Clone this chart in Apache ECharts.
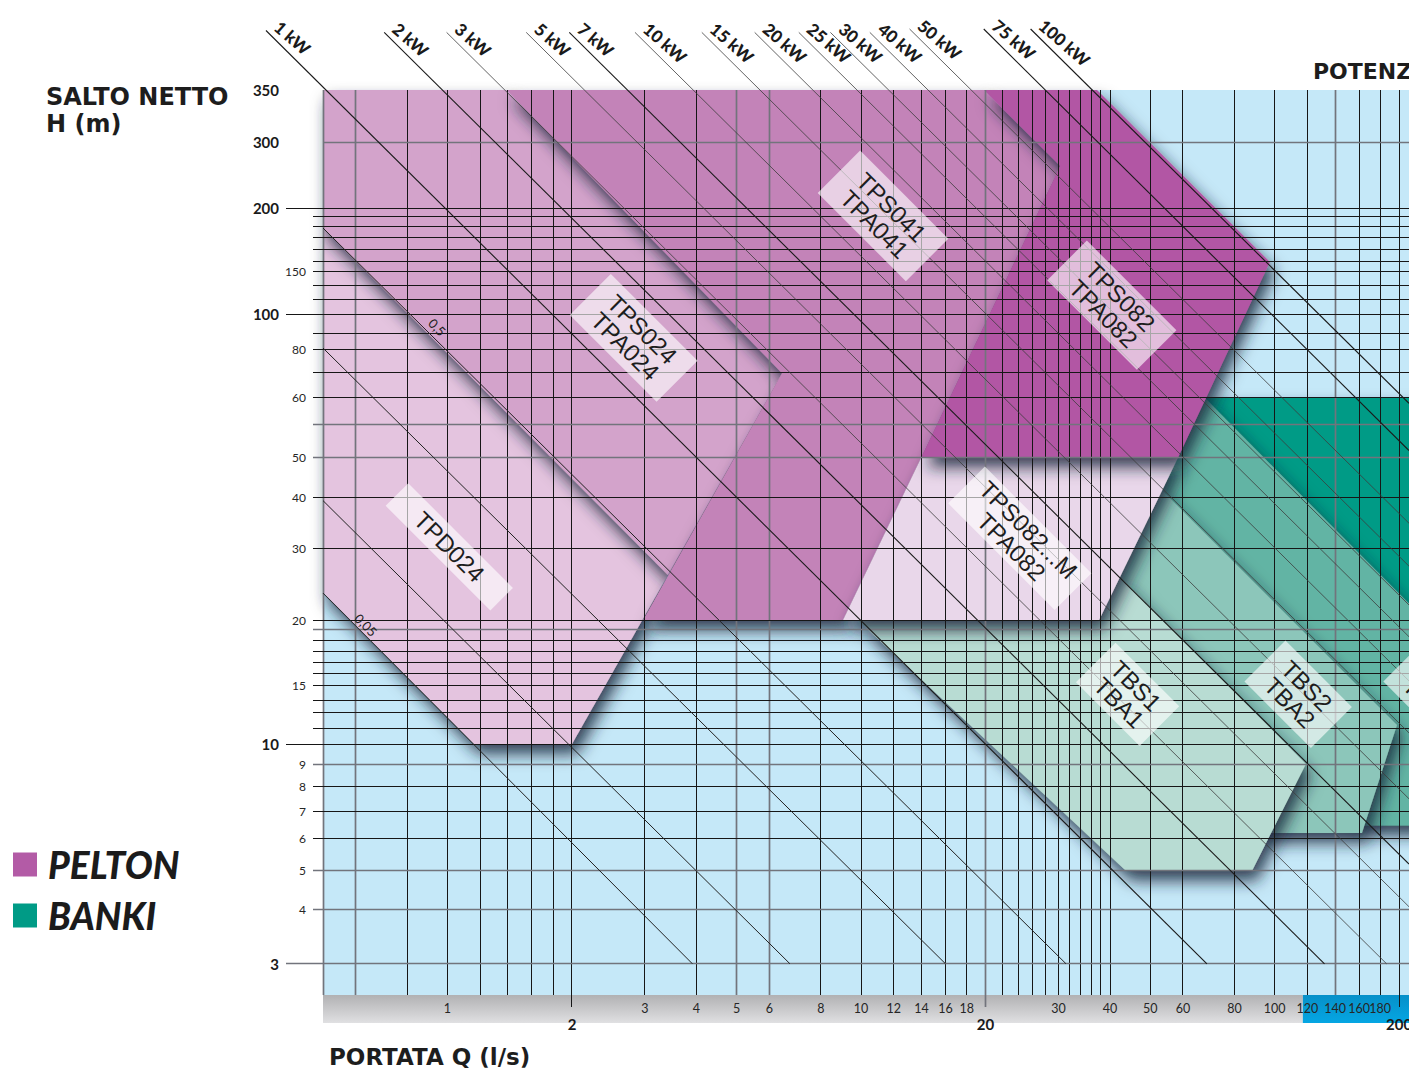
<!DOCTYPE html>
<html>
<head>
<meta charset="utf-8">
<title>Campo di impiego turbine Pelton / Banki</title>
<script src="https://cdn.jsdelivr.net/npm/echarts@6.0.0/dist/echarts.min.js"></script>
<style>
html,body{margin:0;padding:0;background:#ffffff;}
#chart{width:1409px;height:1068px;}
</style>
</head>
<body>
<div id="chart"></div>
<script>
// ---- Head (H) axis exactly as printed in the reference: non-uniform log spacing ----
const Y_SCALE_H   = [2.5, 3, 4, 5, 6, 7, 8, 9, 10, 15, 20, 30, 40, 50, 60, 80, 100, 150, 200, 300, 350, 1000];
const Y_SCALE_POS = [-2.9, 31.3, 85.3, 124.3, 157, 183.7, 209, 231, 251, 309.7, 374.7, 447, 498, 538, 597.7, 646, 680.7, 723.7, 787, 852.7, 905, 1096.5];

const Q_MIN = 0.5, Q_MAX = 211.3, H_MIN = 2.54, H_MAX = 350;

// ---- grid lines ----
const Q_GRID = [0.5,0.6,0.8,1,1.2,1.4,1.6,1.8,2,3,4,5,6,8,10,12,14,16,18,20,22,24,26,28,30,32,34,36,38,40,50,60,80,100,120,140,160,180,200];
const Q_GRID_GREY = [0.5,0.6,5,6,20,140];
const Q_TICKS_LONG = [2,20,200];
const H_GRID = [300,200,192,184,175,166,157,150,131,115,100,88.5,80,69.7,60,55.2,50,40,30,20,19.2,18.3,17.4,16.6,15.8,15,13.5,12.4,11.1,10,9,8,7,6,5,4,3];
const H_GRID_GREY = [300,55.2,50,19.2,9,5,4,3];
const H_GRID_MAJOR = [200,100,10,3];
const H_GRID_NO_TICK = [300];

// ---- tick labels ----
const X_LABELS = [1,2,3,4,5,6,8,10,12,14,16,18,20,30,40,50,60,80,100,120,140,160,180,200];
const X_LABELS_BOLD = [2,20,200];
const Y_LABELS = [350,300,200,150,100,80,60,50,40,30,20,15,10,9,8,7,6,5,4,3];
const Y_LABELS_BOLD = [350,300,200,100,10,3];
const X_BAND_BLUE_FROM = 117;

// ---- PELTON application areas [Q l/s, H m] ----
const TPD024_AREA  = [[0.5,182.6],[0.5,23.4],[1.16,10],[2.0,10],[3.41,25.8]];
const TPS024_AREA  = [[0.5,350],[1.39,350],[6.44,69.3],[3.41,25.8],[0.5,182.6]];
const TPS041_AREA  = [[1.39,350],[19.8,350],[30.3,259],[14.0,50],[9.04,20],[2.97,20],[6.44,69.3]];
const TPS082M_AREA = [[14.0,50],[58.5,50],[37.6,20],[9.04,20]];
const TPS082_AREA  = [[19.8,350],[37.2,350],[97.4,156.5],[58.5,50],[14.0,50],[30.3,259]];

// ---- BANKI application areas [Q l/s, H m] ----
const TBL_AREA  = [[67.5,60],[313.6,60],[313.6,15.7]];
const TBS3_AREA = [[67.5,60],[313.6,15.7],[313.6,6.45],[160.8,6.45],[87.2,13.55],[53.1,41.8]];
const TBS2_AREA = [[53.1,41.8],[197.6,11.4],[162.6,6.18],[94.7,6.18],[59.0,10.3],[40.0,22.8]];
const TBS1_AREA = [[9.83,20],[37.6,20],[42.3,25.5],[119,9],[88.2,5],[43.7,5]];

// ---- constant power lines ----
const KW_LABELS  = ['1 kW','2 kW','3 kW','5 kW','7 kW','10 kW','15 kW','20 kW','25 kW','30 kW','40 kW','50 kW','75 kW','100 kW'];
const KW_START_Q = [0.364,0.703,0.995,1.55,1.97,2.84,4.12,5.53,7.07,8.43,10.5,13.1,19.8,25.7];
const KW_START_H = [485,480,480,480,480,480,480,480,480,480,480,489,489,489];
const KW_END_Q   = [68.6,132,186.5,211.3,211.3,211.3,211.3,211.3,211.3,211.3,211.3,211.3,211.3,211.3];
const KW_END_H   = [3,3,3,4.07,5.19,7.48,10.8,15.3,18.6,21.8,27.1,34.5,51.0,58.9];
const KW_DARK    = ['1 kW','2 kW','7 kW','75 kW','100 kW'];

const LOW_START_Q = [0.5,0.5,0.5,0.5];
const LOW_START_H = [23.3,39.2,80.5,182.6];
const LOW_END_Q   = [3.91,6.73,16.0,31.3];
const LOW_END_H   = [3,3,3,3];
const NOTE_TEXT = ['0,5','0,05'];
const NOTE_Q    = [0.944,0.635];
const NOTE_H    = [92.1,19.6];

// ---- turbine labels ----
const TURBINE_LABELS  = ['TPS041\nTPA041','TPS024\nTPA024','TPD024','TPS082\nTPA082','TPS082...M\nTPA082','TBS1\nTBA1','TBS2\nTBA2','TBS3\nTBA3'];
const TURBINE_LABEL_Q = [11.3,2.82,1.01,40.4,24.2,44.1,114,247];
const TURBINE_LABEL_H = [193,86,30.2,109,31.7,14.1,14.1,14.1];

// ================= helpers =================
function yPos(h) {
  const H = Y_SCALE_H, P = Y_SCALE_POS;
  let i = 0;
  while (i < H.length - 2 && h > H[i + 1]) i++;
  const l0 = Math.log10(H[i]), l1 = Math.log10(H[i + 1]);
  return P[i] + (Math.log10(h) - l0) / (l1 - l0) * (P[i + 1] - P[i]);
}
const near = (a, b) => Math.abs(a - b) < 1e-6;
const crisp = v => Math.round(v - 0.5) + 0.5;
const DEG = Math.PI / 180;

const PELTON_AREAS = [TPD024_AREA, TPS024_AREA, TPS041_AREA, TPS082M_AREA, TPS082_AREA];
const PELTON_FILLS = ['#e4c4df', '#d3a3cb', '#c383b8', '#e9d7ea', '#b256a4'];
const BANKI_AREAS = [TBL_AREA, TBS3_AREA, TBS2_AREA, TBS1_AREA];
const BANKI_FILLS = ['#009b86', '#62b4a4', '#8cc6ba', '#b8dcd3'];
const SHADOW = {shadowBlur: 16, shadowColor: 'rgba(22,40,58,0.85)', shadowOffsetX: 5, shadowOffsetY: 10};

function areaSeries(name, areas, fills, z, color) {
  return {
    type: 'custom', name: name, coordinateSystem: 'cartesian2d', z: z, silent: true,
    itemStyle: {color: color},
    data: areas.map(a => [a[0][0], yPos(a[0][1])]),
    renderItem: function (params, api) {
      const pts = areas[params.dataIndex].map(p => api.coord([p[0], yPos(p[1])]));
      return {
        type: 'polygon', z2: params.dataIndex,
        shape: {points: pts},
        style: Object.assign({fill: fills[params.dataIndex]}, SHADOW)
      };
    }
  };
}

const TURB_PAD = [[6,19],[5,18],[4,30],[4,20],[2,12],[4,15],[5,17],[5,17]];
const TITLE_FONT = {fontFamily: 'DejaVu Sans', fontWeight: 'bold', lineHeight: 27, color: '#1d1d1d'};

const option = {
  animation: false,
  textStyle: {fontFamily: 'Lato'},
  title: [
    {text: 'SALTO NETTO\nH (m)', left: 46, top: 83, padding: 0, textStyle: Object.assign({fontSize: 24}, TITLE_FONT)},
    {text: 'PORTATA Q (l/s)', left: 329, top: 1043, padding: 0, textStyle: Object.assign({fontSize: 23}, TITLE_FONT)},
    {text: 'POTENZA', left: 1313, top: 58, padding: 0, textStyle: Object.assign({fontSize: 22}, TITLE_FONT)}
  ],
  legend: {
    orient: 'vertical', left: 13, top: 846, padding: 0, itemWidth: 24, itemHeight: 24, itemGap: 14,
    selectedMode: false,
    data: [
      {name: 'PELTON', icon: 'rect', itemStyle: {color: '#b35ba6'}},
      {name: 'BANKI', icon: 'rect', itemStyle: {color: '#009b86'}}
    ],
    textStyle: {fontFamily: 'Lato', fontSize: 37, fontWeight: 900, fontStyle: 'italic', color: '#1b1b1b', padding: [0, 0, 0, 6]}
  },
  grid: {left: 323, right: 0, top: 90, bottom: 73, show: true, backgroundColor: '#c5e8f8', borderWidth: 0, containLabel: false, outerBoundsMode: 'none'},
  xAxis: {
    type: 'log', logBase: 10, min: Q_MIN, max: Q_MAX, z: 20,
    axisLine: {show: false}, axisTick: {show: false}, splitLine: {show: false}, minorSplitLine: {show: false},
    axisLabel: {
      customValues: X_LABELS, margin: 7, hideOverlap: false,
      formatter: function (v) {
        const r = Math.round(v * 1000) / 1000;
        return X_LABELS_BOLD.some(b => near(b, r)) ? '{b|' + r + '}' : '{s|' + r + '}';
      },
      rich: {
        s: {fontFamily: 'Lato', fontSize: 12.5, color: '#262626'},
        b: {fontFamily: 'Lato', fontSize: 15, fontWeight: 'bold', color: '#1a1a1a', padding: [14, 0, 0, 0]}
      }
    }
  },
  yAxis: {
    type: 'value', min: yPos(H_MIN), max: yPos(H_MAX), z: 20,
    axisLine: {show: false}, axisTick: {show: false}, splitLine: {show: false},
    axisLabel: {
      customValues: Y_LABELS.map(yPos), margin: 17, hideOverlap: false,
      formatter: function (v) {
        let best = Y_LABELS[0], d = Infinity;
        Y_LABELS.forEach(h => { const dd = Math.abs(yPos(h) - v); if (dd < d) { d = dd; best = h; } });
        return Y_LABELS_BOLD.indexOf(best) >= 0 ? '{b|' + best + '}' : '{s|' + best + '}';
      },
      rich: {
        s: {fontFamily: 'Lato', fontSize: 12, color: '#262626'},
        b: {fontFamily: 'Lato', fontSize: 15, fontWeight: 'bold', color: '#1a1a1a', padding: [0, 27, 0, 0]}
      }
    }
  },
  series: [
    // bottom band of the flow axis
    {
      type: 'custom', name: 'band', coordinateSystem: 'cartesian2d', z: 1, silent: true,
      data: [[Q_MIN, yPos(H_MIN)], [X_BAND_BLUE_FROM, yPos(H_MIN)]],
      renderItem: function (params, api) {
        const i = params.dataIndex;
        const x0 = api.coord([i === 0 ? Q_MIN : X_BAND_BLUE_FROM, yPos(H_MIN)]);
        const x1 = api.coord([i === 0 ? X_BAND_BLUE_FROM : Q_MAX, yPos(H_MIN)]);
        const grad = i === 0
          ? new echarts.graphic.LinearGradient(0, 0, 0, 1, [{offset: 0, color: '#b1b1b3'}, {offset: 1, color: '#e0e0e2'}])
          : new echarts.graphic.LinearGradient(0, 0, 0, 1, [{offset: 0, color: '#0690c9'}, {offset: 1, color: '#05a6e3'}]);
        return {type: 'rect', shape: {x: x0[0], y: x0[1], width: x1[0] - x0[0], height: 28}, style: {fill: grad}};
      }
    },
    areaSeries('BANKI', BANKI_AREAS, BANKI_FILLS, 2, '#009b86'),
    areaSeries('PELTON', PELTON_AREAS, PELTON_FILLS, 3, '#b35ba6'),
    // vertical grid lines
    {
      type: 'custom', name: 'vgrid', coordinateSystem: 'cartesian2d', z: 4, silent: true,
      data: Q_GRID.map(q => [q, yPos(H_MIN)]),
      renderItem: function (params, api) {
        const q = Q_GRID[params.dataIndex];
        const a = api.coord([q, yPos(H_MAX)]);
        const b = api.coord([q, yPos(H_MIN)]);
        const grey = Q_GRID_GREY.some(g => near(g, q));
        const ext = Q_TICKS_LONG.some(g => near(g, q)) ? 12 : 0;
        const x = crisp(a[0]);
        return {type: 'line', shape: {x1: x, y1: a[1], x2: x, y2: b[1] + ext},
                style: {stroke: grey ? '#72747c' : '#161616', lineWidth: grey ? 1.7 : 1}};
      }
    },
    // horizontal grid lines
    {
      type: 'custom', name: 'hgrid', coordinateSystem: 'cartesian2d', z: 4, silent: true,
      data: H_GRID.map(h => [Q_MIN, yPos(h)]),
      renderItem: function (params, api) {
        const h = H_GRID[params.dataIndex];
        const a = api.coord([Q_MIN, yPos(h)]);
        const b = api.coord([Q_MAX, yPos(h)]);
        const grey = H_GRID_GREY.some(g => near(g, h));
        const ext = H_GRID_MAJOR.some(g => near(g, h)) ? 37 : (H_GRID_NO_TICK.some(g => near(g, h)) ? 0 : 10);
        const y = crisp(a[1]);
        return {type: 'line', shape: {x1: a[0] - ext, y1: y, x2: b[0], y2: y},
                style: {stroke: grey ? '#72747c' : '#161616', lineWidth: grey ? 1.6 : 1}};
      }
    },
    // low power lines (starting at the left edge)
    {
      type: 'custom', name: 'lowpower', coordinateSystem: 'cartesian2d', z: 5, silent: true,
      data: LOW_START_Q.map((q, i) => [q, yPos(LOW_START_H[i])]),
      renderItem: function (params, api) {
        const i = params.dataIndex;
        const a = api.coord([LOW_START_Q[i], yPos(LOW_START_H[i])]);
        const b = api.coord([LOW_END_Q[i], yPos(LOW_END_H[i])]);
        return {type: 'line', shape: {x1: a[0], y1: a[1], x2: b[0], y2: b[1]}, style: {stroke: '#222222', lineWidth: 1}};
      }
    },
    // kW lines with their labels
    {
      type: 'custom', name: 'kw', coordinateSystem: 'cartesian2d', z: 5, silent: true,
      data: KW_START_Q.map((q, i) => [q, yPos(KW_START_H[i])]),
      renderItem: function (params, api) {
        const i = params.dataIndex;
        const a = api.coord([KW_START_Q[i], yPos(KW_START_H[i])]);
        const b = api.coord([KW_END_Q[i], yPos(KW_END_H[i])]);
        const dark = KW_DARK.indexOf(KW_LABELS[i]) >= 0;
        return {type: 'group', children: [
          {type: 'line', shape: {x1: a[0], y1: a[1], x2: b[0], y2: b[1]},
           style: {stroke: dark ? '#1a1a1a' : '#3c3c3c', lineWidth: dark ? 1.1 : 0.8}},
          {type: 'text', x: a[0] + 11, y: a[1] - 6, rotation: -41 * DEG,
           style: {text: KW_LABELS[i], fill: '#1a1a1a', fontFamily: 'Lato', fontWeight: 900, fontSize: 17, align: 'left', verticalAlign: 'middle'}}
        ]};
      }
    },
    // notes on low power lines
    {
      type: 'custom', name: 'notes', coordinateSystem: 'cartesian2d', z: 6, silent: true,
      data: NOTE_Q.map((q, i) => [q, yPos(NOTE_H[i])]),
      renderItem: function (params, api) {
        const i = params.dataIndex;
        const p = api.coord([NOTE_Q[i], yPos(NOTE_H[i])]);
        return {type: 'text', x: p[0], y: p[1], rotation: -45 * DEG,
                style: {text: NOTE_TEXT[i], fill: '#1e1e1e', fontFamily: 'Lato', fontSize: 13, align: 'center', verticalAlign: 'middle'}};
      }
    },
    // turbine model labels
    {
      type: 'custom', name: 'models', coordinateSystem: 'cartesian2d', z: 7, silent: true,
      data: TURBINE_LABEL_Q.map((q, i) => [q, yPos(TURBINE_LABEL_H[i])]),
      renderItem: function (params, api) {
        const i = params.dataIndex;
        const p = api.coord([TURBINE_LABEL_Q[i], yPos(TURBINE_LABEL_H[i])]);
        return {type: 'text', x: p[0], y: p[1], rotation: -45 * DEG,
                style: {text: TURBINE_LABELS[i], fill: '#1d1d1d', fontFamily: 'Liberation Sans', fontSize: 24, lineHeight: 24,
                        align: 'center', verticalAlign: 'middle', backgroundColor: 'rgba(255,255,255,0.62)', padding: TURB_PAD[i]}};
      }
    }
  ]
};

const chart = echarts.init(document.getElementById('chart'), null, {renderer: 'svg', width: 1409, height: 1068});
chart.setOption(option);
</script>
</body>
</html>
